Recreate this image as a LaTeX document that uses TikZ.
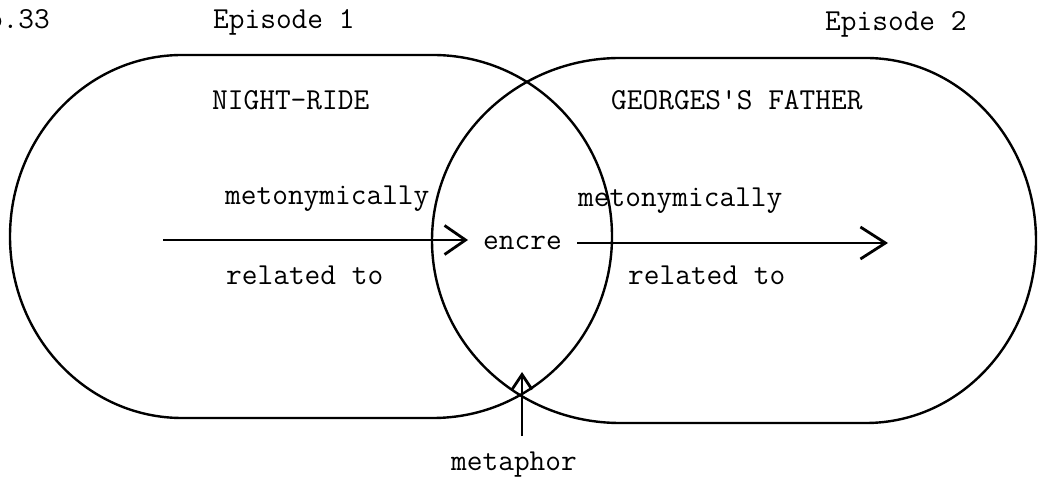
\documentclass[tikz,border=0pt]{standalone}
\usepackage{fontspec}
\setmonofont{Latin Modern Mono}
\usetikzlibrary{arrows.meta}
\begin{document}
\begin{tikzpicture}[x=1pt,y=1pt,
  oval/.style={line width=2.4pt},
  txt/.style={inner sep=0pt,anchor=base west,font=\fontsize{30.5}{36}\selectfont\ttfamily},
  relarrow/.style={line width=2.8pt},
]
\useasboundingbox (0,0) rectangle (1043,479);
% left oval (Episode 1)
\draw[oval] (435,424) -- (182,424)
  arc[start angle=90,end angle=270,x radius=172,y radius=181.5]
  -- (433,61)
  arc[start angle=-90,end angle=90,x radius=179,y radius=181.5] -- cycle;
% right oval (Episode 2)
\draw[oval] (620,421) -- (866,421)
  arc[start angle=90,end angle=-90,x radius=170,y radius=182.5]
  -- (620,56)
  arc[start angle=270,end angle=90,x radius=188,y radius=182.5] -- cycle;
% texts
\node[txt,anchor=base east] (page) at (50,450) {p.33};
\node[txt] (ep1) at (213,450) {Episode 1};
\node[txt] (ep2) at (825,448) {Episode 2};
\node[txt] (nr) at (212,369) {NIGHT-RIDE};
\node[txt] (gf) at (611,369) {GEORGES\textquotesingle S FATHER};
\node[txt] (metL) at (225,274) {metonymically};
\node[txt] (metR) at (578,272) {metonymically};
\node[txt] (relL) at (226,194) {related to};
\node[txt] (relR) at (628,194) {related to};
\node[txt] (encre) at (483,229) {encre};
\node[txt] (metaphor) at (451,9) {metaphor};
% arrows
\coordinate (la) at (163,239);
\coordinate (lb) at (468,239);
\coordinate (ra) at (577,236);
\coordinate (rb) at (888,236);
\coordinate (ma) at (522,43);
\coordinate (mb) at (522,107);
\draw[relarrow,-{Straight Barb[length=21pt,width=29pt]}] (la) -- (lb);
\draw[relarrow,-{Straight Barb[length=25pt,width=32pt]}] (ra) -- (rb);
\draw[relarrow,-{Straight Barb[length=15pt,width=20pt]}] (ma) -- (mb);
\end{tikzpicture}
\end{document}
